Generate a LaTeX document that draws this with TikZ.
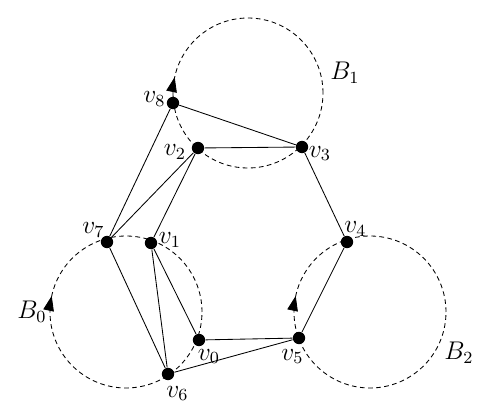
\documentclass[tikz,border=0pt]{standalone}
\usetikzlibrary{arrows.meta,decorations.markings}

\begin{document}
\begin{tikzpicture}[x=0.0165cm, y=0.0165cm,
    lbl/.style={font=\fontsize{11.5}{13}\selectfont},
    vtx/.style={circle, fill=black, inner sep=0pt, minimum size=5.8pt},
    ball/.style={dash pattern=on 2.2pt off 1.6pt, postaction={decorate},
      decoration={markings, mark=at position 0.466 with
        {\arrowreversed{Triangle[length=7pt,width=5pt]}}}}]
    \useasboundingbox (0,0) rectangle (498,419);

    % die drei Kreise
    \draw[ball] (126,107) circle (76);
    \draw[ball] (248,326) circle (75);
    \draw[ball] (370,107) circle (76);
    \node[lbl] (B0) at (32,107.5) {$B_0$};
    \node[lbl] (B1) at (345,346) {$B_1$};
    \node[lbl] (B2) at (459,66.5) {$B_2$};

    % Ecken
    \node[vtx] (v0) at (199,79) {};
    \node[vtx] (v1) at (151,176) {};
    \node[vtx] (v2) at (198,271) {};
    \node[vtx] (v3) at (302,272) {};
    \node[vtx] (v4) at (347,177) {};
    \node[vtx] (v5) at (299,81) {};
    \node[vtx] (v6) at (168,45) {};
    \node[vtx] (v7) at (107,177) {};
    \node[vtx] (v8) at (173,316) {};

    \node[lbl] (l0) at (209,62.5) {$v_0$};
    \node[lbl] (l1) at (170,179) {$v_1$};
    \node[lbl] (l2) at (175,267) {$v_2$};
    \node[lbl] (l3) at (320,265.5) {$v_3$};
    \node[lbl] (l4) at (355.5,190) {$v_4$};
    \node[lbl] (l5) at (292.5,62.5) {$v_5$};
    \node[lbl] (l6) at (177.5,25.5) {$v_6$};
    \node[lbl] (l7) at (93.5,189) {$v_7$};
    \node[lbl] (l8) at (154.5,320) {$v_8$};

    % Kanten
    \draw (v8) -- (v7);
    \draw (v8) -- (v3);
    \draw (v2) -- (v3);
    \draw (v2) -- (v7);
    \draw (v2) -- (v1);
    \draw (v3) -- (v4);
    \draw (v4) -- (v5);
    \draw (v5) -- (v0);
    \draw (v5) -- (v6);
    \draw (v7) -- (v6);
    \draw (v1) -- (v6);
    \draw (v1) -- (v0);
\end{tikzpicture}
\end{document}
